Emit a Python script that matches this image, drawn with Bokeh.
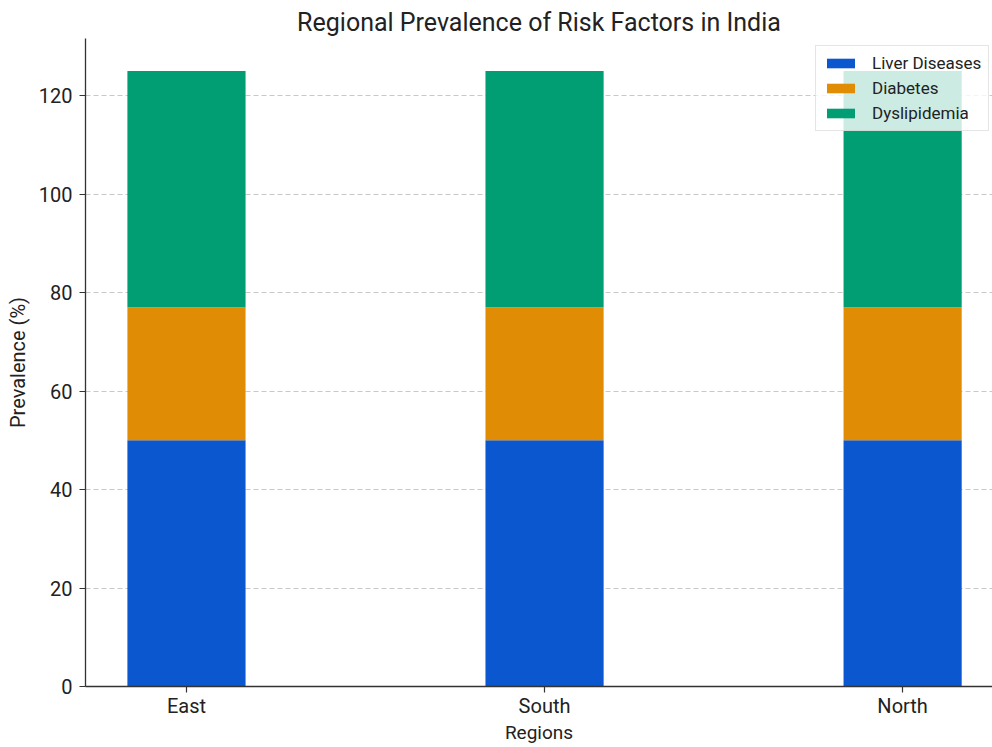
from bokeh.plotting import figure
from bokeh.models import Range1d, FixedTicker, Legend, LegendItem, ColumnDataSource
from bokeh.embed import file_html
from bokeh.resources import INLINE

# ---- data ----
regions = ["East", "South", "North"]
series = ["Liver Diseases", "Diabetes", "Dyslipidemia"]
liver = [50, 50, 50]
diabetes = [27, 27, 27]
dyslipidemia = [48, 48, 48]
y_ticks = [0, 20, 40, 60, 80, 100, 120]

colors = ["#0B57D0", "#E08D05", "#029E73"]
FONT = "Roboto"

x = list(range(len(regions)))
source = ColumnDataSource(dict(x=x, liver=liver, diabetes=diabetes, dys=dyslipidemia))

p = figure(width=992, height=747, output_backend="svg", toolbar_location=None,
           x_range=Range1d(-0.282, 2.251), y_range=Range1d(0, 131.6),
           min_border_left=85, min_border_right=0, min_border_top=38,
           min_border_bottom=61)

renderers = p.vbar_stack(["liver", "diabetes", "dys"], x="x", width=0.33,
                         color=colors, source=source, line_color=None)

# title
p.title.text = "Regional Prevalence of Risk Factors in India"
p.title.align = "center"
p.title.text_font = FONT
p.title.text_font_size = "25px"
p.title.text_font_style = "normal"
p.title.text_color = "#222222"
p.title.standoff = 4

p.outline_line_color = None

# grid
p.xgrid.visible = False
p.ygrid.ticker = FixedTicker(ticks=y_ticks)
p.ygrid.grid_line_color = "#c8c8c8"
p.ygrid.grid_line_dash = "5 3"
p.ygrid.grid_line_width = 1

# axes
p.yaxis.ticker = FixedTicker(ticks=y_ticks)
p.xaxis.ticker = FixedTicker(ticks=x)
p.xaxis.major_label_overrides = {i: r for i, r in enumerate(regions)}
for ax in (p.xaxis[0], p.yaxis[0]):
    ax.axis_line_color = "#333333"
    ax.axis_line_width = 1.3
    ax.major_tick_line_color = "#333333"
    ax.major_tick_line_width = 1.2
    ax.major_tick_in = 0
    ax.major_tick_out = 6
    ax.minor_tick_line_color = None
    ax.major_label_text_font = FONT
    ax.major_label_text_font_size = "20px"
    ax.major_label_text_color = "#222222"
    ax.axis_label_text_font = FONT
    ax.axis_label_text_font_size = "19px"
    ax.axis_label_text_font_style = "normal"
    ax.axis_label_text_color = "#222222"

p.yaxis.axis_label_text_font_size = "20px"
p.xaxis.major_label_standoff = 1
p.yaxis.major_label_standoff = 7
p.xaxis.axis_label = "Regions"
p.yaxis.axis_label = "Prevalence (%)"
p.xaxis.axis_label_standoff = 0
p.yaxis.axis_label_standoff = 6

# legend
items = [LegendItem(label=s, renderers=[r]) for s, r in zip(series, renderers)]
legend = Legend(items=items, location=(730, 555))
legend.label_text_font = FONT
legend.label_text_font_size = "17px"
legend.label_text_color = "#222222"
legend.glyph_width = 35
legend.glyph_height = 12
legend.label_standoff = 14
legend.spacing = 5
legend.padding = 7
legend.margin = 0
legend.border_line_color = "#cccccc"
legend.background_fill_color = "white"
legend.background_fill_alpha = 0.8
p.add_layout(legend, "center")

open("out.html", "w").write(file_html(p, INLINE))
